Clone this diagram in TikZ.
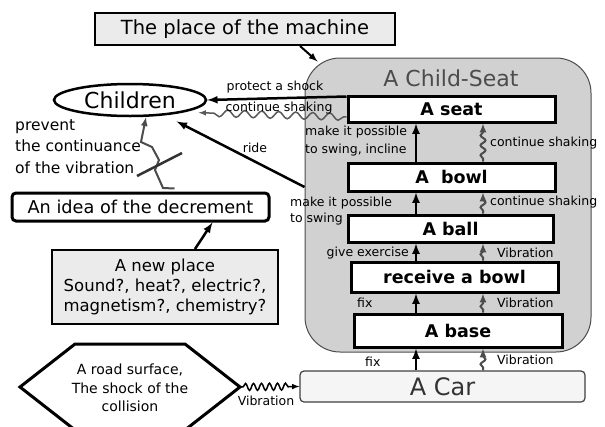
\documentclass[tikz,border=0pt]{standalone}
\usepackage{fontspec}
\setmainfont{DejaVu Sans}
\usetikzlibrary{arrows,shapes.geometric,decorations.pathmorphing}

\begin{document}
\begin{tikzpicture}[x=1pt,y=-1pt]
\tikzstyle{part}=[draw=black,line width=3pt,fill=white,inner sep=0pt,font=\bfseries\fontsize{17.5}{20}\selectfont]
\tikzstyle{lbl}=[inner sep=0pt,font=\fontsize{12.5}{16}\selectfont,align=left]
\tikzstyle{act}=[-latex,line width=2.5pt]
\tikzstyle{vib}=[-latex,line width=2pt,draw=black!70,decorate,decoration={snake,amplitude=2.5pt,segment length=10pt,pre length=3pt,post length=6pt}]
\clip (0,0) rectangle (605,426);
\useasboundingbox (0,0) rectangle (605,426);
% the child-seat and its parts
\node[draw=black!70,line width=1pt,rounded corners=35pt,fill=black!18,minimum width=286pt,minimum height=294pt] (childseat) at (448,205) {};
\node[text=black!70,font=\fontsize{22}{24}\selectfont] (title) at (451,78) {A Child-Seat};
\node[part,minimum width=207pt,minimum height=26pt] (seat) at (451.5,109) {A seat};
\node[part,minimum width=207pt,minimum height=28pt] (bowl) at (451.5,177) {A\ \ bowl};
\node[part,minimum width=205pt,minimum height=27pt] (ball) at (450.5,228.5) {A ball};
\node[part,minimum width=207pt,minimum height=30pt] (recv) at (454.5,277) {receive a bowl};
\node[part,minimum width=208pt,minimum height=33pt] (base) at (458,330.5) {A base};
\node[draw=black!75,line width=1.2pt,rounded corners=4pt,fill=black!4,text=black!80,minimum width=285pt,minimum height=31pt,font=\fontsize{24}{26}\selectfont] (car) at (442.5,386.5) {A Car};
% left side
\node[draw=black,line width=2pt,fill=black!8,minimum width=300pt,minimum height=32pt,font=\fontsize{19.5}{22}\selectfont] (machine) at (245,29) {The place of the machine};
\node[ellipse,draw=black,line width=2.5pt,minimum width=152pt,minimum height=32pt,inner sep=0pt,font=\fontsize{22}{24}\selectfont] (children) at (130,100) {Children};
\node[draw=black,line width=3pt,rounded corners=4pt,minimum width=257pt,minimum height=28pt,inner sep=0pt,font=\fontsize{17.7}{20}\selectfont] (idea) at (140.5,207) {An idea of the decrement};
\node[draw=black,line width=2pt,fill=black!8,minimum width=226pt,minimum height=74pt,inner sep=0pt,align=center,font=\fontsize{16.5}{20}\selectfont] (newplace) at (165,287) {A new place\\Sound?, heat?, electric?,\\magnetism?, chemistry?};
\draw[line width=3pt] (20,387) -- (75,344) -- (185,344) -- (240,387) -- (185,430) -- (75,430) -- cycle;
\node[align=center,inner sep=0pt,font=\fontsize{14}{18.5}\selectfont] (road) at (130,388) {A road surface,\\The shock of the\\collision};
\coordinate (roadtip) at (240,387);
\coordinate (ax) at (416,0);
\coordinate (vx) at (483,0);
% connectors
\draw[act,line width=2pt] ([xshift=55pt]machine.south) -- ([shift={(13pt,-4pt)}]childseat.north west);
\draw[act] ([yshift=-2pt]seat.north west) -- (children.east);
\draw[vib,line width=1.5pt,draw=black!65,decoration={snake,amplitude=3.5pt,segment length=17pt,post length=8pt}] ([yshift=-8pt]seat.west) -- ([shift={(8pt,-2pt)}]children.-10);
\draw[act] ([yshift=18pt]childseat.west) -- ([shift={(12pt,-6pt)}]children.-24);
\draw[act] (bowl.north -| ax) -- (seat.south -| ax);
\draw[vib] (bowl.north -| vx) -- (seat.south -| vx);
\draw[act] (ball.north -| ax) -- (bowl.south -| ax);
\draw[vib] (ball.north -| vx) -- (bowl.south -| vx);
\draw[act] (recv.north -| ax) -- (ball.south -| ax);
\draw[vib] (recv.north -| vx) -- (ball.south -| vx);
\draw[act] (base.north -| ax) -- (recv.south -| ax);
\draw[vib] (base.north -| vx) -- (recv.south -| vx);
\draw[act] (car.north -| ax) -- (base.south -| ax);
\draw[vib] (car.north -| vx) -- (base.south -| vx);
\draw[act] ([xshift=30pt]newplace.north) -- ([xshift=72pt]idea.south);
\draw[vib,line width=1.5pt,draw=black,decoration={snake,amplitude=3.5pt,segment length=8pt,post length=8pt}] (roadtip) -- (car.west);
\draw[-latex,line width=2pt,draw=black!70] ([shift={(34pt,3pt)}]idea.north) -- (163,188) -- (155,170) -- (159,160) -- (152,147) -- (141,142) -- ([xshift=16pt]children.south);
\draw[line width=2.5pt,draw=black!80] (137,176) -- (182,153);
% labels
\node[lbl] (l1) at (275,87) {protect a shock};
\node[lbl] (l2) at (279,108) {continue shaking};
\node[lbl] (l3) at (255,148) {ride};
\node[lbl,anchor=west,font=\fontsize{15.5}{21.5}\selectfont] (l4) at (15,146.5) {prevent\\the continuance\\of the vibration};
\node[lbl,anchor=west,font=\fontsize{12.5}{17.5}\selectfont] (l5) at (305,141) {make it possible\\to swing, incline};
\node[lbl,anchor=west] (l6) at (490,143) {continue shaking};
\node[lbl,anchor=west] (l7) at (290,211) {make it possible\\to swing};
\node[lbl,anchor=west] (l8) at (490,202) {continue shaking};
\node[lbl,anchor=east] (l9) at (409,253) {give exercise};
\node[lbl,anchor=west] (l10) at (497,253) {Vibration};
\node[lbl,anchor=west] (l11) at (357,303) {fix};
\node[lbl,anchor=west] (l12) at (497,303) {Vibration};
\node[lbl,anchor=west] (l13) at (365,362) {fix};
\node[lbl,anchor=west] (l14) at (497,360) {Vibration};
\node[lbl] (l15) at (266,401) {Vibration};
\end{tikzpicture}
\end{document}
